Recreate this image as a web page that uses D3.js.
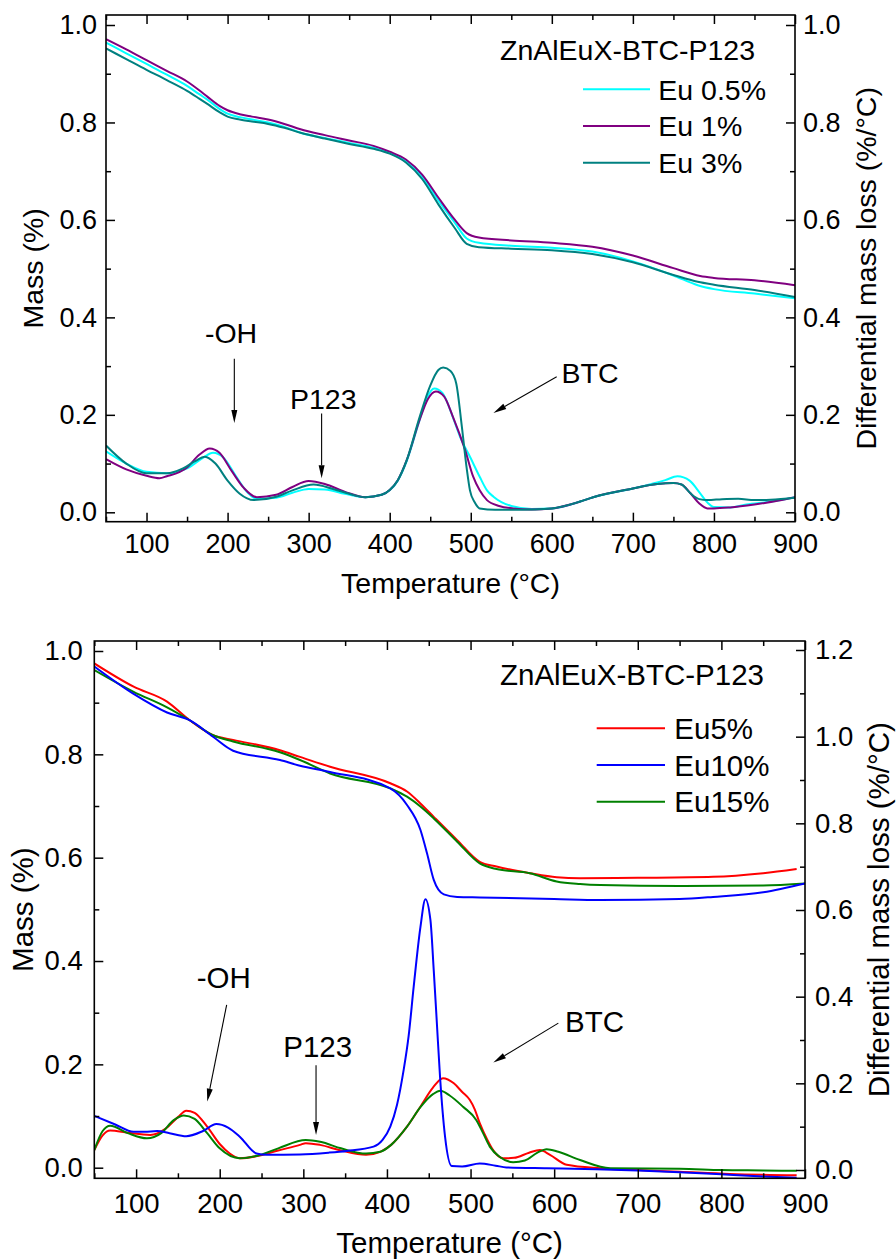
<!DOCTYPE html>
<html><head><meta charset="utf-8">
<script src="https://cdn.jsdelivr.net/npm/d3@7"></script>
<style>body{margin:0;background:#fff} svg{display:block}</style>
</head><body><svg id="c" width="896" height="1260"></svg>
<script>
// ---------------- data ----------------
const xMajor = [100,200,300,400,500,600,700,800,900];
const xMinor = [50,150,250,350,450,550,650,750,850];
const massMajor = [0,0.2,0.4,0.6,0.8,1.0];
const massMinor = [0.1,0.3,0.5,0.7,0.9];
const dtgMajorTop = [0,0.2,0.4,0.6,0.8,1.0];
const dtgMinorTop = [0.1,0.3,0.5,0.7,0.9];
const dtgMajorBottom = [0,0.2,0.4,0.6,0.8,1.0,1.2];
const dtgMinorBottom = [0.1,0.3,0.5,0.7,0.9,1.1];

const topTitle = "ZnAlEuX-BTC-P123";
const topNames = ["Eu 0.5%","Eu 1%","Eu 3%"];
const bottomTitle = "ZnAlEuX-BTC-P123";
const bottomNames = ["Eu5%","Eu10%","Eu15%"];

// top panel: TG (mass) curves
const tgEu05 = [[50,0.964],[75,0.942],[100,0.920],[125,0.898],[150,0.875],[165,0.858],[175,0.847],[190,0.828],[200,0.818],[215,0.811],[230,0.806],[250,0.800],[270,0.791],[290,0.779],[320,0.768],[350,0.758],[380,0.748],[400,0.737],[420,0.720],[440,0.688],[460,0.640],[480,0.595],[495,0.562],[510,0.553],[550,0.547],[600,0.543],[650,0.535],[700,0.515],[750,0.486],[780,0.466],[800,0.458],[850,0.449],[900,0.439]];
const tgEu1 = [[50,0.971],[75,0.950],[100,0.928],[125,0.906],[150,0.884],[165,0.866],[175,0.853],[190,0.834],[200,0.825],[215,0.817],[230,0.812],[250,0.806],[270,0.797],[290,0.786],[320,0.774],[350,0.763],[380,0.752],[400,0.740],[420,0.724],[440,0.693],[460,0.646],[480,0.601],[495,0.573],[510,0.564],[550,0.558],[600,0.553],[650,0.545],[700,0.527],[750,0.501],[783,0.485],[800,0.481],[850,0.476],[900,0.466]];
const tgEu3 = [[50,0.952],[75,0.930],[100,0.908],[125,0.887],[150,0.865],[165,0.849],[175,0.838],[190,0.821],[200,0.812],[215,0.806],[230,0.802],[250,0.797],[270,0.789],[290,0.779],[320,0.767],[350,0.756],[380,0.746],[400,0.736],[420,0.718],[440,0.684],[460,0.632],[480,0.584],[495,0.551],[510,0.544],[550,0.541],[600,0.538],[650,0.530],[700,0.513],[750,0.487],[780,0.473],[800,0.467],[850,0.456],[900,0.442]];

// top panel: DTG curves
const dtgEu05 = [[50,0.125],[75,0.100],[100,0.083],[125,0.080],[150,0.090],[170,0.112],[182,0.122],[195,0.112],[210,0.075],[225,0.040],[235,0.028],[260,0.030],[280,0.040],[300,0.048],[320,0.047],[345,0.038],[370,0.031],[390,0.036],[400,0.045],[410,0.065],[421,0.105],[437,0.190],[446,0.235],[455,0.254],[465,0.245],[478,0.195],[488,0.150],[499,0.114],[511,0.073],[520,0.045],[528,0.032],[550,0.013],[575,0.007],[600,0.008],[635,0.022],[651,0.031],[700,0.049],[740,0.066],[755,0.074],[770,0.065],[783,0.039],[792,0.020],[800,0.011],[820,0.010],[840,0.016],[870,0.022],[900,0.031]];
const dtgEu1 = [[50,0.109],[75,0.088],[100,0.075],[116,0.070],[125,0.074],[150,0.092],[165,0.118],[178,0.131],[190,0.122],[205,0.085],[220,0.050],[236,0.031],[260,0.036],[280,0.052],[300,0.064],[320,0.058],[345,0.042],[370,0.031],[390,0.036],[400,0.046],[410,0.066],[421,0.107],[437,0.190],[447,0.232],[457,0.248],[467,0.238],[478,0.196],[493,0.128],[503,0.073],[511,0.045],[520,0.025],[535,0.013],[552,0.008],[575,0.006],[600,0.008],[635,0.022],[651,0.031],[700,0.049],[730,0.058],[750,0.060],[760,0.057],[771,0.039],[782,0.018],[792,0.008],[800,0.008],[820,0.010],[850,0.016],[880,0.024],[900,0.031]];
const dtgEu3 = [[50,0.137],[75,0.100],[100,0.080],[125,0.080],[145,0.090],[160,0.105],[172,0.114],[185,0.100],[200,0.065],[215,0.038],[232,0.025],[260,0.032],[280,0.045],[306,0.057],[330,0.048],[350,0.038],[370,0.031],[390,0.036],[400,0.046],[410,0.066],[421,0.107],[437,0.196],[450,0.260],[460,0.292],[466,0.297],[475,0.290],[482,0.265],[489,0.176],[495,0.090],[499,0.045],[505,0.020],[511,0.008],[530,0.005],[560,0.005],[600,0.008],[635,0.022],[651,0.031],[700,0.049],[730,0.058],[750,0.060],[760,0.057],[771,0.039],[782,0.027],[792,0.025],[810,0.027],[830,0.028],[850,0.025],[870,0.026],[900,0.030]];

// bottom panel: TG (mass) curves
const tgEu5 = [[50,0.976],[97,0.931],[137,0.902],[164,0.866],[192,0.837],[216,0.828],[272,0.808],[296,0.795],[332,0.776],[404,0.744],[424,0.728],[440,0.705],[456,0.679],[484,0.634],[511,0.592],[531,0.583],[571,0.570],[603,0.562],[631,0.560],[700,0.561],[790,0.563],[850,0.570],[890,0.578]];
const tgEu10 = [[50,0.970],[97,0.917],[137,0.881],[164,0.866],[192,0.834],[216,0.807],[272,0.789],[296,0.778],[332,0.766],[404,0.734],[424,0.702],[440,0.654],[448,0.608],[456,0.557],[468,0.529],[484,0.524],[511,0.523],[600,0.520],[655,0.518],[750,0.520],[790,0.524],[850,0.533],[900,0.550]];
const tgEu15 = [[50,0.963],[97,0.921],[137,0.891],[164,0.866],[192,0.837],[216,0.825],[272,0.804],[296,0.789],[332,0.763],[404,0.734],[424,0.718],[440,0.699],[456,0.676],[484,0.631],[511,0.589],[531,0.578],[571,0.570],[603,0.554],[631,0.549],[655,0.547],[750,0.545],[850,0.546],[900,0.550]];

// bottom panel: DTG curves
const dtgEu5 = [[50,0.046],[60,0.080],[69,0.091],[90,0.086],[117,0.081],[135,0.095],[150,0.122],[160,0.137],[170,0.132],[185,0.100],[200,0.060],[212,0.038],[224,0.027],[245,0.032],[270,0.045],[296,0.058],[303,0.062],[320,0.058],[345,0.045],[375,0.035],[392,0.042],[405,0.058],[424,0.100],[440,0.146],[455,0.190],[467,0.212],[480,0.200],[490,0.180],[499,0.162],[505,0.140],[511,0.108],[520,0.070],[527,0.046],[539,0.027],[552,0.028],[570,0.040],[583,0.046],[595,0.035],[615,0.012],[655,0.004],[700,0.000],[750,-0.004],[810,-0.009],[890,-0.012]];
const dtgEu10 = [[50,0.125],[75,0.105],[97,0.088],[110,0.088],[125,0.090],[140,0.085],[160,0.078],[180,0.090],[196,0.106],[210,0.098],[224,0.077],[244,0.038],[256,0.035],[296,0.036],[330,0.040],[352,0.044],[384,0.054],[395,0.070],[404,0.100],[412,0.150],[420,0.231],[426,0.310],[432,0.423],[440,0.560],[446,0.625],[452,0.577],[456,0.460],[459.5,0.346],[463.5,0.215],[469.5,0.077],[477.5,0.009],[490,0.008],[511,0.015],[530,0.010],[543,0.006],[591,0.004],[650,0.002],[700,-0.001],[750,-0.005],[800,-0.010],[850,-0.015],[890,-0.018]];
const dtgEu15 = [[50,0.046],[60,0.090],[69,0.102],[90,0.085],[113,0.073],[130,0.085],[145,0.115],[157,0.126],[170,0.118],[185,0.085],[200,0.050],[224,0.027],[245,0.033],[270,0.050],[303,0.069],[320,0.065],[345,0.050],[365,0.040],[375,0.038],[392,0.042],[405,0.058],[424,0.100],[440,0.145],[455,0.175],[464,0.183],[475,0.172],[491,0.146],[507,0.115],[515,0.085],[523,0.054],[535,0.030],[551,0.018],[565,0.022],[580,0.040],[591,0.048],[605,0.042],[631,0.023],[667,0.004],[750,0.003],[800,0.000],[850,-0.001],[890,-0.002]];

// annotations (data coordinates on the DTG axis): label, text anchor, arrow start, arrow end
const topNotes = [
  {t:"-OH", at:[172,0.347], from:[208.3,0.315], to:[208.3,0.183]},
  {t:"P123", at:[277,0.213], from:[316,0.203], to:[316,0.070]},
  {t:"BTC", at:[612,0.265], from:[606,0.278], to:[528,0.204]}
];
const bottomNotes = [
  {t:"-OH", at:[172.5,0.419], from:[208.3,0.381], to:[185.1,0.158]},
  {t:"P123", at:[276,0.261], from:[315.2,0.242], to:[315.2,0.081]},
  {t:"BTC", at:[613,0.319], from:[605,0.339], to:[527.2,0.248]}
];

// ---------------- drawing ----------------
const FONT = "'Liberation Sans', Arial, sans-serif";
const svg = d3.select('#c');

function axis(g, makeGen, tr, majors, minors, fmt, pad, fs) {
  const a = g.append('g').attr('transform', tr)
    .call(makeGen().tickValues(majors).tickSizeInner(-9).tickSizeOuter(0)
      .tickPadding(pad || 3).tickFormat(fmt ? fmt : () => ''));
  a.select('.domain').remove();
  a.attr('font-family', FONT).attr('font-size', fs || 27);
  a.selectAll('line').attr('stroke-width', 1.5);
  const m = g.append('g').attr('transform', tr)
    .call(makeGen().tickValues(minors).tickSizeInner(-5).tickSizeOuter(0).tickFormat(() => ''));
  m.select('.domain').remove();
  m.selectAll('line').attr('stroke-width', 1.5);
}

function arrow(g, x1, y1, x2, y2) {
  const ang = Math.atan2(y2 - y1, x2 - x1);
  const L = 13, hw = 3;
  const bx = x2 - L * Math.cos(ang), by = y2 - L * Math.sin(ang);
  g.append('line').attr('x1', x1).attr('y1', y1).attr('x2', bx).attr('y2', by)
    .attr('stroke', '#000').attr('stroke-width', 1.1);
  const px = -Math.sin(ang) * hw, py = Math.cos(ang) * hw;
  g.append('path').attr('d', `M${x2},${y2}L${bx+px},${by+py}L${bx-px},${by-py}Z`).attr('fill', '#000');
}

function drawPanel(p) {
  const x = d3.scaleLinear().domain([50, 900]).range([p.x0, p.x1]);
  const yL = d3.scaleLinear().domain([0, 1]).range([p.yL0, p.yL1]);
  const yR = d3.scaleLinear().domain([0, p.rMax]).range([p.yR0, p.yR1]);
  const g = svg.append('g');
  const cid = 'clip' + p.id;
  g.append('clipPath').attr('id', cid).append('rect')
    .attr('x', p.x0).attr('y', p.top).attr('width', p.x1 - p.x0).attr('height', p.bottom - p.top);
  const lineL = d3.line().x(d => x(d[0])).y(d => yL(d[1])).curve(d3.curveMonotoneX);
  const lineR = d3.line().x(d => x(d[0])).y(d => yR(d[1])).curve(d3.curveMonotoneX);
  const plot = g.append('g').attr('clip-path', `url(#${cid})`);
  p.order.forEach(i => {
    plot.append('path').attr('d', lineL(p.tg[i])).attr('fill', 'none')
      .attr('stroke', p.colors[i]).attr('stroke-width', 2).attr('stroke-linejoin', 'round');
  });
  p.order.forEach(i => {
    plot.append('path').attr('d', lineR(p.dtg[i])).attr('fill', 'none')
      .attr('stroke', p.colors[i]).attr('stroke-width', 2).attr('stroke-linejoin', 'round');
  });

  axis(g, () => d3.axisBottom(x), `translate(0,${p.bottom})`, xMajor, xMinor, d3.format('d'), p.padB, p.tickFs);
  axis(g, () => d3.axisTop(x), `translate(0,${p.top})`, xMajor, xMinor, null);
  axis(g, () => d3.axisLeft(yL), `translate(${p.x0},0)`, massMajor, massMinor, d3.format('.1f'), p.padL, p.tickFs);
  axis(g, () => d3.axisRight(yR), `translate(${p.x1},0)`, p.rMajor, p.rMinor, d3.format('.1f'), p.padR, p.tickFs);

  g.append('rect').attr('x', p.x0).attr('y', p.top).attr('width', p.x1 - p.x0).attr('height', p.bottom - p.top)
    .attr('fill', 'none').attr('stroke', '#000').attr('stroke-width', 1.6);

  const cy = (p.top + p.bottom) / 2;
  const txt = (s, fs) => g.append('text').text(s).attr('font-family', FONT).attr('font-size', fs).attr('fill', '#000');
  txt('Mass (%)', p.fs).attr('text-anchor', 'middle').attr('transform', `translate(${p.lTitleX},${cy}) rotate(-90)`);
  txt('Differential mass loss (%/°C)', p.fs).attr('text-anchor', 'middle').attr('transform', `translate(${p.rTitleX},${cy}) rotate(-90)`);
  txt('Temperature (°C)', p.fs).attr('text-anchor', 'middle').attr('x', (p.x0 + p.x1) / 2).attr('y', p.xTitleY);

  // legend
  txt(p.title, p.fs).attr('x', p.legTitleX).attr('y', p.legTitleY);
  p.names.forEach((n, i) => {
    const ly = p.legY0 + i * p.legDy;
    g.append('line').attr('x1', p.legX0).attr('x2', p.legX1).attr('y1', ly).attr('y2', ly)
      .attr('stroke', p.colors[i]).attr('stroke-width', 2);
    txt(n, p.fs).attr('x', p.legTX).attr('y', ly).attr('dy', '0.36em');
  });

  // annotations
  p.notes.forEach(a => {
    txt(a.t, p.fs).attr('x', x(a.at[0])).attr('y', yR(a.at[1]));
    arrow(g, x(a.from[0]), yR(a.from[1]), x(a.to[0]), yR(a.to[1]));
  });
}

drawPanel({
  id: 'top', x0: 106, x1: 795, top: 15, bottom: 521.7,
  yL0: 512.3, yL1: 25, yR0: 512.3, yR1: 25, rMax: 1.0,
  rMajor: dtgMajorTop, rMinor: dtgMinorTop,
  tg: [tgEu05, tgEu1, tgEu3], dtg: [dtgEu05, dtgEu1, dtgEu3],
  colors: ['#00FFFF', '#800080', '#008080'], order: [0, 1, 2],
  names: topNames, title: topTitle, notes: topNotes,
  padB: 12, padL: 9, padR: 8, tickFs: 27, fs: 28.5,
  lTitleX: 43, rTitleX: 876, xTitleY: 593,
  legTitleX: 500, legTitleY: 60, legX0: 583, legX1: 650, legTX: 658.3, legY0: 89.3, legDy: 36.7
});

drawPanel({
  id: 'bot', x0: 94.3, x1: 805, top: 641, bottom: 1178.3,
  yL0: 1167.7, yL1: 651, yR0: 1170, yR1: 650, rMax: 1.2,
  rMajor: dtgMajorBottom, rMinor: dtgMinorBottom,
  tg: [tgEu5, tgEu10, tgEu15], dtg: [dtgEu5, dtgEu10, dtgEu15],
  colors: ['#FF0000', '#0000FF', '#008000'], order: [0, 2, 1],
  names: bottomNames, title: bottomTitle, notes: bottomNotes,
  padB: 15.5, padL: 11.6, padR: 10, tickFs: 27.5, fs: 29.5,
  lTitleX: 33, rTitleX: 889, xTitleY: 1253.3,
  legTitleX: 500, legTitleY: 685, legX0: 596.7, legX1: 665, legTX: 674.3, legY0: 728.3, legDy: 36.7
});
</script></body></html>
